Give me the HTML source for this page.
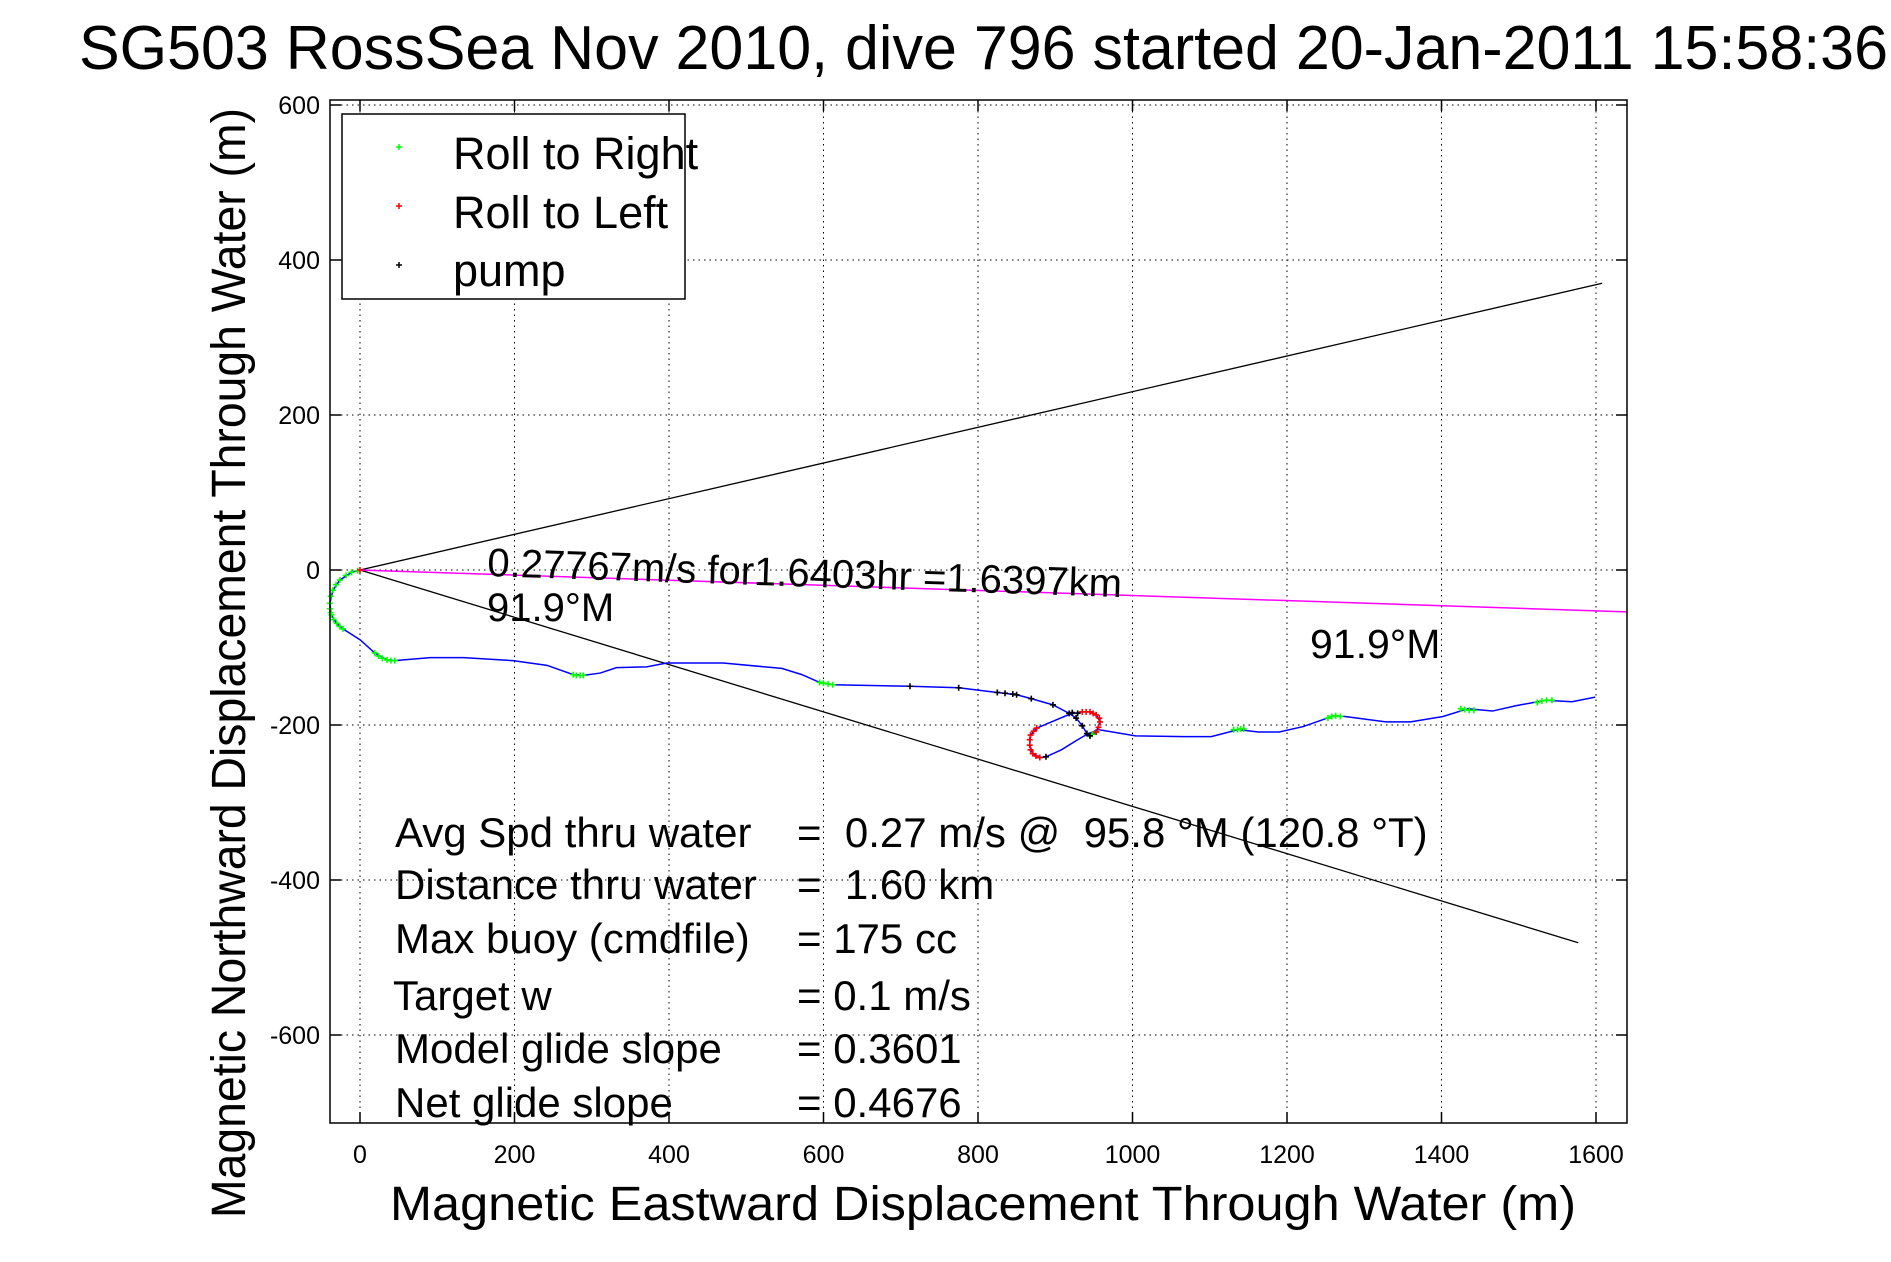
<!DOCTYPE html>
<html><head><meta charset="utf-8"><style>
html,body{margin:0;padding:0;background:#fff;}
svg{display:block;font-family:"Liberation Sans",Arial,sans-serif;}
</style></head><body>
<svg id="chart" width="1891" height="1262" viewBox="0 0 1891 1262" xmlns="http://www.w3.org/2000/svg">
<rect width="1891" height="1262" fill="#fff"/>
<text x="79" y="69" font-size="62" textLength="1809" lengthAdjust="spacingAndGlyphs">SG503 RossSea Nov 2010, dive 796 started 20-Jan-2011 15:58:36</text>
<g id="grid"></g>
<g id="refs"></g>
<g id="series"></g>
<rect x="330" y="100" width="1297" height="1023" fill="none" stroke="#000" stroke-width="1.5"/>
<g id="ticks"></g>
<text x="390" y="1220" font-size="48" textLength="1186" lengthAdjust="spacingAndGlyphs">Magnetic Eastward Displacement Through Water (m)</text>
<text transform="translate(245,1218) rotate(-90)" font-size="48" textLength="1110" lengthAdjust="spacingAndGlyphs">Magnetic Northward Displacement Through Water (m)</text>
<text transform="translate(487,576) rotate(1.9)" font-size="40">0.27767m/s for1.6403hr =1.6397km</text>
<text x="487" y="621" font-size="40">91.9°M</text>
<text x="1310" y="658" font-size="41">91.9°M</text>
<g font-size="42">
<text x="395" y="847">Avg Spd thru water</text>
<text x="797" y="847" xml:space="preserve">=  0.27 m/s @  95.8 °M (120.8 °T)</text>
<text x="395" y="899">Distance thru water</text>
<text x="797" y="899" xml:space="preserve">=  1.60 km</text>
<text x="395" y="953">Max buoy (cmdfile)</text>
<text x="797" y="953">= 175 cc</text>
<text x="393" y="1010">Target w</text>
<text x="797" y="1010">= 0.1 m/s</text>
<text x="395" y="1063">Model glide slope</text>
<text x="797" y="1063">= 0.3601</text>
<text x="395" y="1117">Net glide slope</text>
<text x="797" y="1117">= 0.4676</text>
</g>
<g>
<rect x="342" y="114" width="343" height="185" fill="#fff" stroke="#000" stroke-width="1.5"/>
<g><path d="M396 147h6M399 144v6" stroke="#0f0" stroke-width="1.5"/><text x="453" y="169" font-size="45">Roll to Right</text></g>
<g><path d="M396 206h6M399 203v6" stroke="#f00" stroke-width="1.5"/><text x="453" y="228" font-size="45">Roll to Left</text></g>
<g><path d="M396 265h6M399 262v6" stroke="#000" stroke-width="1.5"/><text x="453" y="286" font-size="45">pump</text></g>
</g>
</svg>
<script>
const xTicks=[0,200,400,600,800,1000,1200,1400,1600];
const yTicks=[600,400,200,0,-200,-400,-600];
const trackX=[0,-11,-26,-35,-39,-37,-30,-22,0,19,35,45,91,134,198,242,276,289,311,332,371,397,470,546,572,595,612,712,775,825,850,869,897,918,927,935,941,945,953,958,953,945,935,919,876,868,867,871,880,888,908,929,943,956,1004,1067,1102,1137,1163,1190,1221,1261,1275,1328,1360,1402,1434,1466,1497,1535,1569,1599];
const trackY=[0,-3,-13,-26,-43,-58,-69,-76,-90,-107,-116,-117,-113,-113,-117,-123,-135,-136,-133,-126,-125,-120,-120,-127,-135,-145,-148,-150,-152,-158,-161,-166,-174,-185,-191,-201,-211,-214,-209,-196,-187,-183,-183,-186,-204,-213,-226,-237,-242,-241,-232,-219,-211,-206,-214,-215,-215,-206,-209,-209,-202,-188,-189,-196,-196,-189,-179,-182,-175,-168,-170,-164];
const rollRightX=[-3,-11,-18,-26,-31,-35,-38,-39,-39,-38,-37,-34,-30,-26,-22,19,24,29,35,40,45,276,280,285,289,595,600,606,612,945,948,953,1131,1136,1140,1144,1253,1258,1263,1269,1425,1430,1436,1442,1524,1530,1536,1543];
const rollRightY=[-1,-3,-7,-13,-19,-26,-34,-43,-50,-55,-58,-64,-69,-73,-76,-107,-111,-114,-116,-117,-117,-135,-136,-136,-136,-145,-146,-147,-148,-214,-212,-209,-206,-206,-205,-205,-191,-189,-188,-189,-179,-180,-181,-181,-171,-169,-168,-168];
const rollLeftX=[953,956,958,957,953,949,945,940,935,876,872,868,867,867,868,871,875,880,0];
const rollLeftY=[-209,-203,-196,-191,-187,-185,-183,-183,-183,-204,-208,-213,-219,-226,-232,-237,-240,-242,0];
const pumpX=[712,775,825,835,845,850,869,897,918,927,935,941,945,888,922,929];
const pumpY=[-150,-152,-158,-159,-160,-161,-166,-174,-185,-191,-201,-211,-214,-241,-184,-185];
const magX=[0,1640], magY=[0,-54];
const upX=[0,1608], upY=[0,370];
const lowX=[0,1577], lowY=[0,-481];
const NS="http://www.w3.org/2000/svg";
const sx=v=>360+v*0.7725, sy=v=>570-v*0.775;
function mk(tag,attrs,parent){const e=document.createElementNS(NS,tag);for(const k in attrs)e.setAttribute(k,attrs[k]);parent.appendChild(e);return e;}
const grid=document.getElementById('grid'),ticks=document.getElementById('ticks'),refs=document.getElementById('refs'),series=document.getElementById('series');
xTicks.forEach(t=>{
 const g=mk('line',{x1:sx(t),x2:sx(t),y1:100,y2:1123,stroke:'#000','stroke-width':1,'stroke-dasharray':'1.5 4'},grid);
 
 
 const a=mk('path',{d:`M${sx(t)} 1123v-11M${sx(t)} 100v11`,stroke:'#000','stroke-width':1.5},ticks);
 
 
 const l=mk('text',{x:sx(t),y:1163,'font-size':25,'text-anchor':'middle'},ticks);l.textContent=t;
 
 
});
yTicks.forEach(t=>{
 const g=mk('line',{x1:330,x2:1627,y1:sy(t),y2:sy(t),stroke:'#000','stroke-width':1,'stroke-dasharray':'1.5 4'},grid);
 
 
 const a=mk('path',{d:`M330 ${sy(t)}h11M1627 ${sy(t)}h-11`,stroke:'#000','stroke-width':1.5},ticks);
 
 
 const l=mk('text',{x:320,y:sy(t)+9,'font-size':25,'text-anchor':'end'},ticks);l.textContent=t;
 
 
});
function line(xs,ys,color,name,w){
 const p=mk('polyline',{points:xs.map((x,i)=>sx(x)+','+sy(ys[i])).join(' '),fill:'none',stroke:color,'stroke-width':w},name==='track'?series:refs);
 
 
}
line(upX,upY,'#000','upper-bound-line',1.3);
line(lowX,lowY,'#000','lower-bound-line',1.3);
line(magX,magY,'#f0f','mean-heading-line',1.5);
line(trackX,trackY,'#00f','track',1.5);
function marks(xs,ys,color,name){
 const d=xs.map((x,i)=>`M${sx(x)-3} ${sy(ys[i])}h6M${sx(x)} ${sy(ys[i])-3}v6`).join('');
 const p=mk('path',{d:d,stroke:color,'stroke-width':1.6,fill:'none'},series);
 
 
}
marks(rollRightX,rollRightY,'#0f0','roll-right-markers');
marks(rollLeftX,rollLeftY,'#f00','roll-left-markers');
marks(pumpX,pumpY,'#000','pump-markers');
</script>
</body></html>
